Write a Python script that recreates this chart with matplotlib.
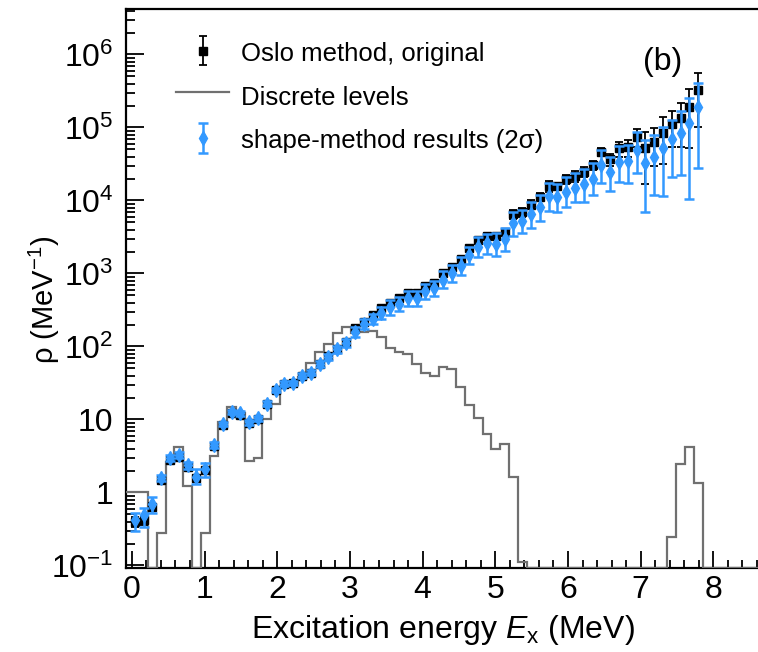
import numpy as np
import matplotlib
matplotlib.use("Agg")
from matplotlib import pyplot as plt
from matplotlib.ticker import MultipleLocator, LogLocator, FixedLocator, FuncFormatter, NullFormatter
from matplotlib.legend_handler import HandlerErrorbar

#---------------------------------------------------------------------------
# excitation energy bins (MeV)
energy = [0.041, 0.162, 0.283, 0.404, 0.525, 0.647, 0.768, 0.889, 1.010, 1.131,
          1.252, 1.373, 1.494, 1.615, 1.736, 1.858, 1.979, 2.100, 2.221, 2.342,
          2.463, 2.584, 2.705, 2.826, 2.947, 3.069, 3.190, 3.311, 3.432, 3.553,
          3.674, 3.795, 3.916, 4.037, 4.158, 4.280, 4.401, 4.522, 4.643, 4.764,
          4.885, 5.006, 5.127, 5.248, 5.369, 5.491, 5.612, 5.733, 5.854, 5.975,
          6.096, 6.217, 6.338, 6.459, 6.580, 6.702, 6.823, 6.944, 7.065, 7.186,
          7.307, 7.428, 7.549, 7.670, 7.791]

# Oslo method, original
rho_oslo = [0.40, 0.42, 0.64, 1.48, 2.8, 3.1, 2.2, 1.56, 2.03, 4.3,
            8.4, 12.4, 11.5, 8.9, 10.1, 16.3, 25.3, 30.6, 31.6, 40,
            43.7, 58, 73, 93, 116, 177, 218, 270, 334, 398,
            458, 535, 535, 675, 748, 1003, 1216, 1566, 2213, 2880,
            3250, 3250, 3700, 6500, 7000, 8800, 11200, 15600, 15800, 19500,
            21700, 24800, 30600, 46600, 36700, 51900, 53700, 74800, 51900, 63800,
            85000, 112000, 134000, 193000, 327000]
rho_oslo_err = [0.06, 0.06, 0.07, 0.12, 0.2, 0.22, 0.16, 0.12, 0.15, 0.3,
                0.5, 0.7, 0.7, 0.55, 0.6, 0.9, 1.3, 1.6, 1.6, 2.0,
                2.2, 3, 4, 5, 6, 9, 11, 14, 17, 20,
                24, 28, 28, 36, 40, 55, 68, 90, 130, 175,
                200, 210, 250, 900, 1000, 1200, 1500, 2700, 1800, 2800,
                3700, 3700, 4100, 6400, 7300, 12000, 14000, 20000, 35000, 34000,
                53000, 58000, 80000, 140000, 225000]

# shape-method results (2 sigma)
rho_shape = [0.42, 0.49, 0.70, 1.58, 2.97, 3.27, 2.38, 1.65, 2.1, 4.5,
             8.7, 12.8, 12.2, 9.2, 10.4, 16.5, 25.6, 31, 32, 40,
             44, 58, 72, 91, 112, 159, 203, 236, 285, 344,
             383, 458, 458, 574, 628, 814, 1000, 1264, 1780, 2330,
             2590, 2530, 2940, 4900, 5300, 6530, 8220, 11500, 11300, 13200,
             15000, 16800, 20000, 30600, 24300, 33900, 35100, 49400, 32300, 39000,
             51900, 69000, 83000, 115000, 193000]
rho_shape_lo = [0.12, 0.15, 0.17, 0.15, 0.25, 0.28, 0.25, 0.34, 0.46, 0.4,
                0.6, 0.9, 0.9, 0.7, 0.8, 1.2, 1.8, 2.2, 2.2, 3,
                3.5, 5, 7, 9, 14, 22, 28, 32, 50, 74,
                80, 98, 98, 125, 140, 188, 235, 312, 440, 666,
                740, 800, 900, 1630, 1750, 2280, 2950, 4320, 4280, 4980,
                5400, 7200, 8100, 13000, 10700, 15800, 17900, 25400, 25300, 27100,
                40400, 48200, 60900, 104600, 165400]
rho_shape_hi = [0.10, 0.12, 0.16, 0.15, 0.25, 0.28, 0.25, 0.43, 0.46, 0.4,
                0.6, 0.9, 0.9, 0.7, 0.8, 1.2, 1.8, 2.2, 2.2, 3,
                3.5, 5, 7, 9, 14, 26, 34, 40, 60, 89,
                98, 119, 119, 150, 170, 277, 320, 398, 560, 790,
                900, 1010, 1230, 2120, 2100, 3070, 3680, 5700, 5500, 8000,
                8500, 9900, 12300, 18800, 14700, 21800, 22400, 37600, 35300, 39900,
                50100, 57000, 87000, 136000, 218000]

# discrete levels histogram: one bin below the first energy bin, then the
# same bins as above, then empty bins up to the end of the axis
disc_levels = [1.0,
               1.0, 1.0, 0, 0.28, 2.64, 4.2, 1.23, 0, 0.28, 3.16,
               9.3, 14.7, 12.4, 2.7, 2.94, 10.2, 16.3, 27.6, 30, 38,
               60, 85, 108, 155, 187, 152, 160, 165, 136, 94,
               85, 79, 57, 43, 39.5, 52, 48.7, 28, 16, 10.4,
               6.3, 3.9, 4.57, 1.64, 0.11, 0, 0, 0, 0, 0,
               0, 0, 0, 0, 0, 0, 0, 0, 0, 0,
               0, 0.243, 2.43, 4.24, 1.36,
               0, 0, 0, 0, 0, 0, 0, 0]

ytick_values = [0.1, 1, 10, 1e2, 1e3, 1e4, 1e5, 1e6]

#---------------------------------------------------------------------------
plt.rcParams['font.family'] = ['Liberation Sans', 'DejaVu Sans']
plt.rcParams['mathtext.fontset'] = 'custom'
plt.rcParams['mathtext.rm'] = 'Liberation Sans'
plt.rcParams['mathtext.it'] = 'Liberation Sans:italic'

YMIN, YMAX = 0.0924, 4.2e6

e = np.array(energy)
de = e[1] - e[0]
n_extra_right = len(disc_levels) - len(energy) - 1
edges = np.concatenate([[e[0] - 1.5 * de],
                        e - 0.5 * de,
                        e[-1] + 0.5 * de + de * np.arange(n_extra_right + 1)])
disc = np.clip(np.array(disc_levels, dtype=float), YMIN, None)

fig = plt.figure(figsize=(7.58, 6.52), dpi=100)
ax = fig.add_axes([126 / 758, 84 / 652, 650 / 758, 559 / 652])

h_disc = ax.stairs(disc, edges, color='#707070', linewidth=1.6, zorder=3,
                   label='Discrete levels')
h_oslo = ax.errorbar(e, rho_oslo, yerr=rho_oslo_err, fmt='s', color='black',
                     ms=6.3, elinewidth=1.3, capsize=3, capthick=1.3, zorder=4,
                     label='Oslo method, original')
h_shape = ax.errorbar(e, rho_shape, yerr=[rho_shape_lo, rho_shape_hi], fmt='d',
                      color='#3399ff', ms=7.5, elinewidth=1.8, capsize=3.5,
                      capthick=1.8, zorder=5,
                      label='shape-method results (2σ)')

ax.set_yscale('log')
ax.set_xlim(-0.08, -0.08 + 650 / 72.7)
ax.set_ylim(YMIN, YMAX)

ax.xaxis.set_major_locator(MultipleLocator(1))
ax.xaxis.set_minor_locator(MultipleLocator(0.2))
ax.yaxis.set_major_locator(FixedLocator(ytick_values))
ax.yaxis.set_minor_locator(LogLocator(base=10, subs=np.arange(2, 10), numticks=20))
ax.yaxis.set_minor_formatter(NullFormatter())

def ylabel_fmt(v, pos):
    n = int(round(np.log10(v)))
    if n == 0:
        return '1'
    if n == 1:
        return '10'
    return r'10$^{%d}$' % n
ax.yaxis.set_major_formatter(FuncFormatter(ylabel_fmt))

ax.tick_params(which='both', direction='in', top=False, right=False,
               labelsize=23, width=1.3)
ax.tick_params(axis='x', which='major', length=12, pad=5)
ax.tick_params(axis='x', which='minor', length=6)
ax.tick_params(axis='y', which='major', length=13, pad=9)
ax.tick_params(axis='y', which='minor', length=6.5)

for side in ['left', 'bottom', 'top']:
    ax.spines[side].set_linewidth(1.6)
ax.spines['right'].set_visible(False)

ax.set_xlabel(r'Excitation energy $E_{\mathrm{x}}$ (MeV)', fontsize=23)
ax.xaxis.set_label_coords(0.488, -0.08)
ax.set_ylabel(r'ρ (MeV$^{-1}$)', fontsize=21)
ax.yaxis.set_label_coords(-0.098, 0.48)

ax.text(0.825, 0.905, '(b)', transform=ax.transAxes, fontsize=23,
        ha='center', va='center')

fs_leg = 18.5
ax.legend([h_oslo, h_disc, h_shape],
          ['Oslo method, original', 'Discrete levels',
           'shape-method results (2σ)'],
          loc='upper left', bbox_to_anchor=(0.077, 0.945), frameon=False,
          fontsize=fs_leg, handlelength=2.06, handletextpad=0.47,
          handleheight=1.17, labelspacing=0.66, borderpad=0, borderaxespad=0,
          handler_map={type(h_oslo): HandlerErrorbar(xerr_size=0.58)})

fig.savefig('out.png', dpi=100)
